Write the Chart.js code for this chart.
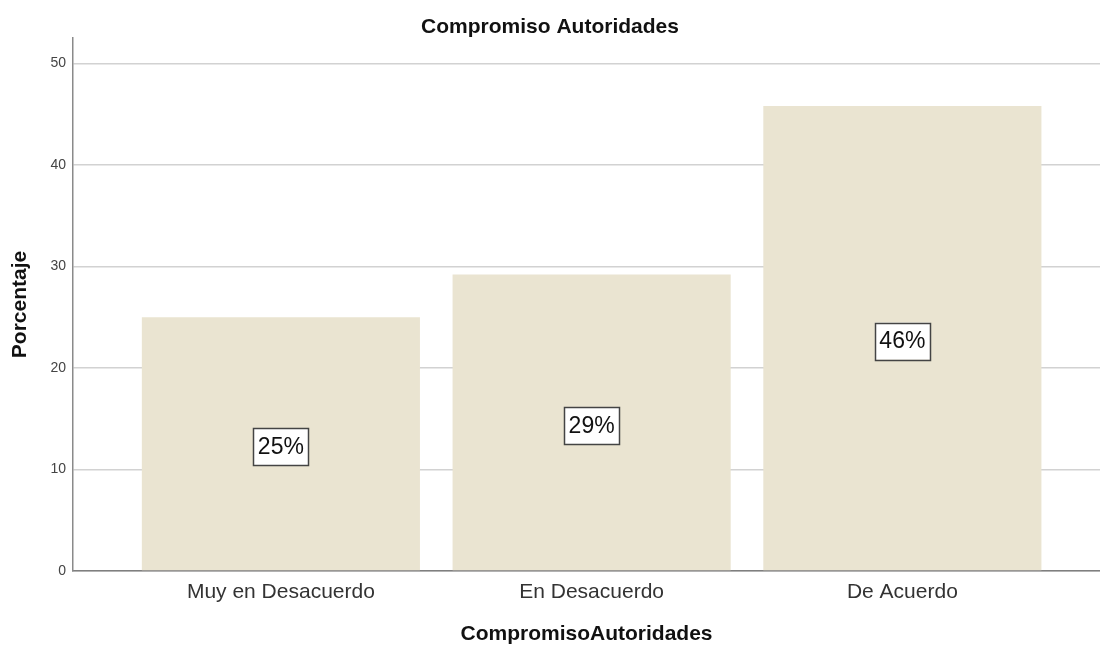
<!DOCTYPE html>
<html>
<head>
<meta charset="utf-8">
<title>Compromiso Autoridades</title>
<script src="https://cdn.jsdelivr.net/npm/chart.js@4.4.1/dist/chart.umd.min.js"></script>
<style>
  html, body { margin: 0; padding: 0; background: #fff; }
  #wrap { width: 1100px; height: 645px; }
</style>
</head>
<body>
<div id="wrap"><canvas id="chart" width="1100" height="645"></canvas></div>
<script>
// categorias y porcentajes
var categories = ["Muy en Desacuerdo", "En Desacuerdo", "De Acuerdo"];
var percents = [25.0, 29.2, 45.8];
var yTicks = [0, 10, 20, 30, 40, 50];

var FONT = "Arial, 'Liberation Sans', sans-serif";

// etiquetas con caja blanca en el centro de cada barra
var boxLabels = {
    id: "boxLabels",
    afterDatasetsDraw: function (chart) {
        var ctx = chart.ctx;
        var meta = chart.getDatasetMeta(0);
        ctx.save();
        ctx.font = "23px " + FONT;
        ctx.textAlign = "center";
        ctx.textBaseline = "middle";
        meta.data.forEach(function (bar, i) {
            var txt = Math.round(percents[i]) + "%";
            var w = ctx.measureText(txt).width + 9;
            var h = 37;
            var cx = bar.x;
            var cy = (bar.y + bar.base) / 2 + 3;
            ctx.fillStyle = "#ffffff";
            ctx.fillRect(cx - w / 2, cy - h / 2, w, h);
            ctx.strokeStyle = "#444444";
            ctx.lineWidth = 1.5;
            ctx.strokeRect(Math.round(cx - w / 2) + 0.5, Math.round(cy - h / 2) + 0.5, Math.round(w), h);
            ctx.fillStyle = "#111111";
            ctx.fillText(txt, cx, cy + 1);
        });
        ctx.restore();
    }
};

var ctx = document.getElementById("chart").getContext("2d");
var chart = new Chart(ctx, {
    type: "bar",
    data: {
        datasets: [{
            label: "Porcentaje",
            data: percents.map(function (v, i) { return { x: i, y: v }; }),
            backgroundColor: "#EAE4D1",
            borderWidth: 0,
            barPercentage: 0.895,
            categoryPercentage: 1.0
        }]
    },
    options: {
        responsive: false,
        animation: false,
        devicePixelRatio: 1,
        layout: { padding: 0 },
        plugins: {
            legend: { display: false },
            tooltip: { enabled: false },
            title: {
                display: true,
                text: "Compromiso Autoridades",
                color: "#111",
                font: { family: FONT, size: 21, weight: "bold", lineHeight: 1 },
                padding: { top: 17, bottom: 0 }
            }
        },
        scales: {
            x: {
                type: "linear",
                offset: false,
                min: -0.669,
                max: 2.636,
                afterBuildTicks: function (scale) {
                    scale.ticks = categories.map(function (c, i) { return { value: i }; });
                },
                afterFit: function (scale) { scale.height = 74; },
                ticks: {
                    padding: 9,
                    color: "#333",
                    font: { family: FONT, size: 21 },
                    maxRotation: 0,
                    autoSkip: false,
                    callback: function (v) { return categories[v]; }
                },
                grid: { display: false, drawTicks: false },
                border: { display: true, color: "#7f7f7f", width: 1.5 },
                title: {
                    display: true,
                    text: "CompromisoAutoridades",
                    color: "#111",
                    font: { family: FONT, size: 21, weight: "bold", lineHeight: 1 },
                    padding: { top: 0, bottom: 0 }
                }
            },
            y: {
                min: 0,
                max: 52.5,
                afterBuildTicks: function (scale) {
                    scale.ticks = yTicks.map(function (v) { return { value: v }; });
                },
                afterFit: function (scale) { scale.width = 73; },
                ticks: {
                    padding: 7,
                    color: "#444",
                    font: { family: FONT, size: 14 }
                },
                grid: { color: "#d2d2d2", lineWidth: 1.5, drawTicks: false },
                border: { display: true, color: "#8a8a8a", width: 1.5 },
                title: {
                    display: true,
                    text: "Porcentaje",
                    color: "#111",
                    font: { family: FONT, size: 21, weight: "bold", lineHeight: 1 },
                    padding: { top: 10, bottom: 0 }
                }
            }
        }
    },
    plugins: [boxLabels]
});
</script>
</body>
</html>
